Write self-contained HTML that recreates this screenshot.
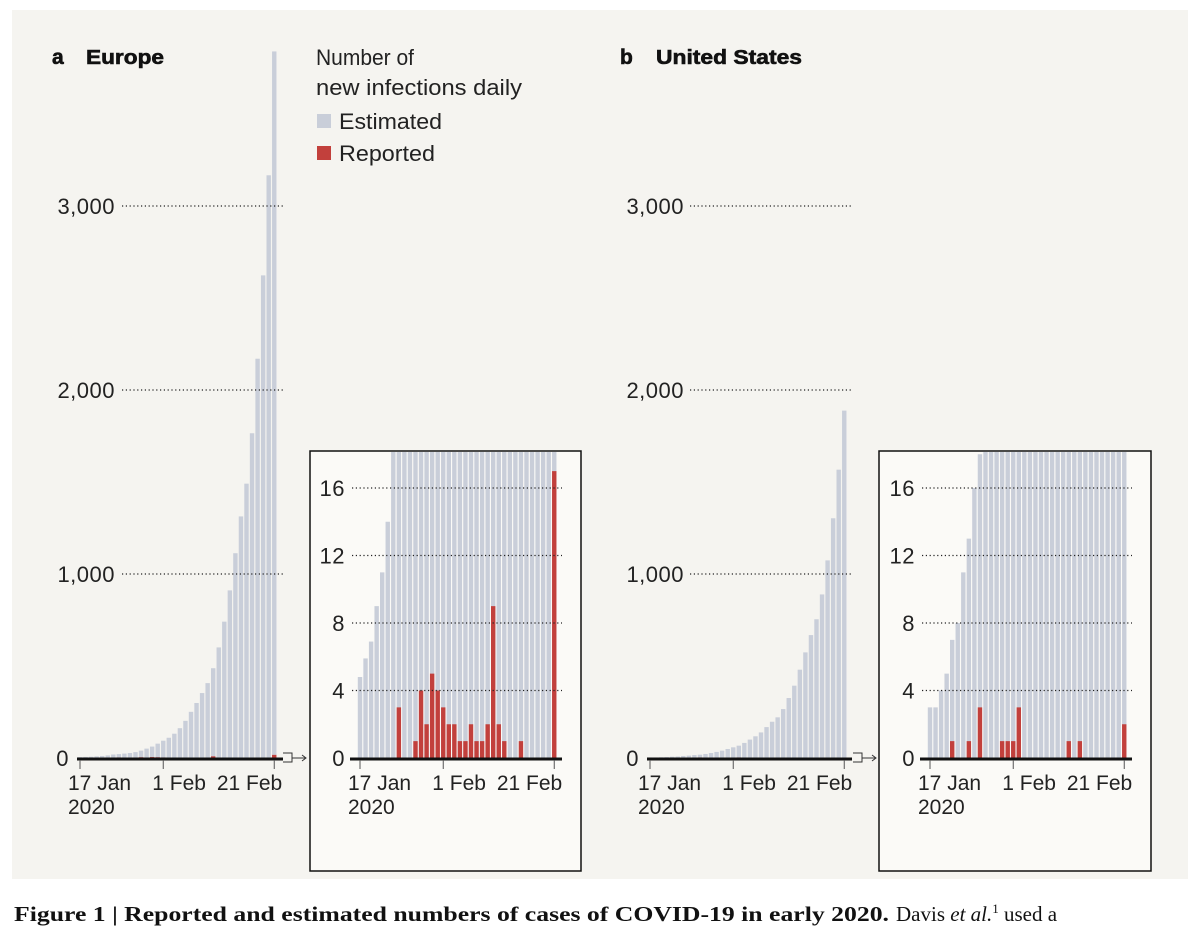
<!DOCTYPE html>
<html><head><meta charset="utf-8"><style>
html,body{margin:0;padding:0;background:#fff;}
svg{display:block;font-family:"Liberation Sans",sans-serif;}
</style></head><body>
<svg id="fig" width="1200" height="935" viewBox="0 0 1200 935">
<rect x="12" y="10" width="1176" height="869" fill="#f5f4f0"/>
<text x="52" y="64" font-size="21" font-weight="bold" fill="#111" stroke="#111" stroke-width="0.6">a</text>
<text x="86" y="64" font-size="20" font-weight="bold" fill="#111" stroke="#111" stroke-width="0.6" textLength="78" lengthAdjust="spacingAndGlyphs">Europe</text>
<text x="620" y="64" font-size="21" font-weight="bold" fill="#111" stroke="#111" stroke-width="0.6">b</text>
<text x="656" y="64" font-size="20" font-weight="bold" fill="#111" stroke="#111" stroke-width="0.6" textLength="146" lengthAdjust="spacingAndGlyphs">United States</text>
<g>
<text x="316" y="65" font-size="22" fill="#222" textLength="98" lengthAdjust="spacingAndGlyphs">Number of</text>
<text x="316" y="95" font-size="22" fill="#222" textLength="206" lengthAdjust="spacingAndGlyphs">new infections daily</text>
<rect x="317" y="114" width="14" height="14" fill="#c9ced9"/>
<text x="339" y="129" font-size="22" fill="#222" textLength="103" lengthAdjust="spacingAndGlyphs">Estimated</text>
<rect x="317" y="146" width="14" height="14" fill="#c2403c"/>
<text x="339" y="161" font-size="22" fill="#222" textLength="96" lengthAdjust="spacingAndGlyphs">Reported</text>
</g>
<text x="14" y="921" font-family="Liberation Serif,serif" font-size="21" font-weight="bold" fill="#111" textLength="875" lengthAdjust="spacingAndGlyphs">Figure 1 | Reported and estimated numbers of cases of COVID-19 in early 2020.</text>
<text x="896" y="921" font-family="Liberation Serif,serif" font-size="21" fill="#111">Davis <tspan font-style="italic">et al.</tspan><tspan font-size="13" dy="-8">1</tspan><tspan dy="8"> used a</tspan></text>
</svg>
<script>
const days = [0,15,35];
const dayLabels = ["17 Jan","1 Feb","21 Feb"];
const mainTicks = [0,1000,2000,3000];
const mainTickLabels = ["0","1,000","2,000","3,000"];
const insetTicks = [0,4,8,12,16];
const euEstimated = [4.8,5.9,6.9,9,11,14,19,21,24,27,32,40,51,62,78,94,110,132,162,202,251,299,353,407,488,601,741,911,1113,1313,1491,1765,2170,2623,3167,3840];
const euReported = [0,0,0,0,0,0,0,3,0,0,1,4,2,5,4,3,2,2,1,1,2,1,1,2,9,2,1,0,0,1,0,0,0,0,0,17];
const usEstimated = [3,3,4,5,7,8,11,13,16,18,22,27,33,40,49,58,67,82,100,118,139,168,197,221,266,326,393,480,574,668,754,889,1074,1303,1567,1888];
const usReported = [0,0,0,0,1,0,0,1,0,3,0,0,0,1,1,1,3,0,0,0,0,0,0,0,0,1,0,1,0,0,0,0,0,0,0,2];
</script>
<script>
(function(){
const NS="http://www.w3.org/2000/svg";
const svg=document.getElementById('fig');
function mk(tag,attrs,parent){const e=document.createElementNS(NS,tag);for(const k in attrs)e.setAttribute(k,attrs[k]);(parent||svg).appendChild(e);return e;}
function panel(opt){
  const g=mk('g',{});
  
  
  const xs=d=>opt.x0+d*opt.dx;
  const ys=v=>opt.y0-v*opt.ky;
  if(opt.inset){
    const r=mk('rect',{x:opt.box[0],y:opt.box[1],width:opt.box[2],height:opt.box[3],fill:'#fbfaf7',stroke:'#111','stroke-width':1.5},g);
    
    
    const cid=opt.name+'-clip';
    const cp=mk('clipPath',{id:cid},g);
    mk('rect',{x:opt.box[0],y:opt.box[1]+1,width:opt.box[2],height:opt.box[3]},cp);
    opt.clip='url(#'+cid+')';
  }
  const bars=mk('g',opt.clip?{'clip-path':opt.clip}:{},g);
  opt.est.forEach((v,i)=>{
    const top=Math.max(ys(v),opt.inset?opt.box[1]:0);
    const b=mk('rect',{x:xs(i)-opt.bw/2,y:top,width:opt.bw,height:opt.y0-top,fill:'#c9ced9'},bars);
    
    
  });
  opt.rep.forEach((v,i)=>{
    if(!v)return;
    const b=mk('rect',{x:xs(i)-opt.bw/2,y:ys(v),width:opt.bw,height:opt.y0-ys(v),fill:'#c2403c'},bars);
    
    
  });
  opt.ticks.forEach((t,i)=>{
    const y=ys(t);
    if(t>0){
      const l=mk('line',{x1:opt.gx[0],x2:opt.gx[1],y1:y,y2:y,stroke:'#222','stroke-width':1.2,'stroke-dasharray':'1.2 2.6'},g);
      
      
    }
    const tx=mk('text',{x:t===0&&opt.zx?opt.zx:opt.lx,y:y+8,'font-size':22,'letter-spacing':0.5,'text-anchor':'end',fill:'#222'},g);
    tx.textContent=opt.tlabels[i];
    
    
  });
  const bx=opt.bx!==undefined?opt.bx:opt.gx[0]-2;
  const base=mk('line',{x1:bx,x2:opt.gx[1],y1:opt.y0+1,y2:opt.y0+1,stroke:'#111','stroke-width':3},g);
  
  
  days.forEach((d,i)=>{
    const x=xs(d);
    const tk=mk('line',{x1:x,x2:x,y1:opt.y0+2,y2:opt.y0+11,stroke:'#555','stroke-width':1},g);
    
    
    const anchor=i==2?'end':'start';
    const lx=i==0?x-12:(i==1?x-11:x+8);
    const tx=mk('text',{x:lx,y:opt.y0+32,'font-size':21,'text-anchor':anchor,fill:'#222'},g);
    tx.textContent=dayLabels[i];
    
    
  });
  const yr=mk('text',{x:xs(0)-12,y:opt.y0+56,'font-size':21,fill:'#222'},g);
  yr.textContent='2020';
  
  
  if(opt.arrow){
    const a=mk('path',{d:`M${opt.arrow} ${opt.y0-5} h9 v9 h-9 M${opt.arrow+9} ${opt.y0} h14 M${opt.arrow+19} ${opt.y0-3} l4 3 l-4 3`,fill:'none',stroke:'#333','stroke-width':1},g);
    
    
  }
}
const mk1=(name,x0,gx,lx,est,rep,arrow)=>panel({name,x0,dx:5.55,bw:4.4,y0:758,ky:0.184,est,rep,ticks:mainTicks,tlabels:mainTickLabels,gx,lx,arrow,bx:x0-3,zx:x0-11});
mk1('europe-main-chart',80,[122,283],115,euEstimated,euReported,283);
mk1('us-main-chart',650,[690,852],684,usEstimated,usReported,853);
const mk2=(name,x0,box,gx,lx,est,rep)=>panel({name,x0,dx:5.55,bw:4.4,y0:758,ky:16.875,est,rep,ticks:insetTicks,tlabels:insetTicks.map(String),gx,lx,inset:true,box});
mk2('europe-inset-chart',360,[310,451,271,420],[352,562],345,euEstimated,euReported);
mk2('us-inset-chart',930,[879,451,272,420],[922,1132],915,usEstimated,usReported);
})();
</script>
</body></html>
